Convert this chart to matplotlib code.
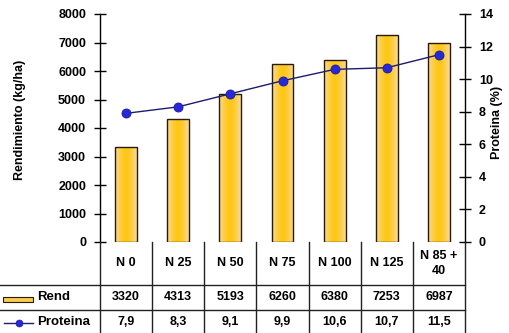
import numpy as np
import matplotlib
matplotlib.use("Agg")
import matplotlib.pyplot as plt
from matplotlib.transforms import blended_transform_factory
from matplotlib.patches import Rectangle
from matplotlib.lines import Line2D

plt.rcParams['font.family'] = ['Liberation Sans', 'DejaVu Sans']
plt.rcParams['font.weight'] = 'bold'

categories = ["N 0", "N 25", "N 50", "N 75", "N 100", "N 125", "N 85 +\n40"]
rend = [3320, 4313, 5193, 6260, 6380, 7253, 6987]
proteina = [7.9, 8.3, 9.1, 9.9, 10.6, 10.7, 11.5]
rend_ticks = [0, 1000, 2000, 3000, 4000, 5000, 6000, 7000, 8000]
prot_ticks = [0, 2, 4, 6, 8, 10, 12, 14]

W, H = 510, 333
FS = 9
fig = plt.figure(figsize=(W / 100, H / 100), dpi=100)
fig.patch.set_facecolor('white')

def fx(px):
    return px / W

def fy(py):
    return 1 - py / H

ax_l, ax_r, ax_t, ax_b = 100, 465, 14, 242
ax = fig.add_axes([fx(ax_l), fy(ax_b), fx(ax_r - ax_l), fy(ax_t) - fy(ax_b)])
ax2 = ax.twinx()

n = len(categories)
x = np.arange(n)
ax.set_xlim(-0.5, n - 0.5)
ax.set_ylim(0, 8000)
ax2.set_ylim(0, 14)

# Bars with a horizontal light-gold-light gradient
bar_w = 0.42
grad = np.linspace(-1, 1, 64)
t = 1 - np.abs(grad) ** 1.6
edge_c = np.array([0.98, 0.86, 0.62])
mid_c = np.array([1.0, 0.78, 0.08])
img = (edge_c[None, :] * (1 - t[:, None]) + mid_c[None, :] * t[:, None])[None, :, :]
for xi, v in zip(x, rend):
    rect = Rectangle((xi - bar_w / 2, 0), bar_w, v, facecolor='none',
                     edgecolor='#2a1a0a', linewidth=1.0, zorder=3)
    ax.add_patch(rect)
    im = ax.imshow(img, extent=(xi - bar_w / 2, xi + bar_w / 2, 0, v),
                   aspect='auto', zorder=2, interpolation='bilinear')
    im.set_clip_path(rect)
ax.set_xlim(-0.5, n - 0.5)
ax.set_ylim(0, 8000)

# Protein line
ax2.plot(x, proteina, color='#1c1c6e', linewidth=1.0, marker='o',
         markersize=6.5, markerfacecolor='#2828d8', markeredgecolor='#1a1aa0',
         markeredgewidth=0.6, zorder=5)

for a in (ax, ax2):
    for s in ('top', 'bottom'):
        a.spines[s].set_visible(False)
    a.set_xticks([])
ax.spines['right'].set_visible(False)
ax2.spines['left'].set_visible(False)
ax.spines['left'].set_linewidth(1.0)
ax2.spines['right'].set_linewidth(1.0)

ax.set_yticks(rend_ticks)
ax.set_yticklabels([str(v) for v in rend_ticks], fontsize=FS, fontweight='bold')
ax.tick_params(axis='y', direction='inout', length=8, width=1.0, pad=6)
ax2.set_yticks(prot_ticks)
ax2.set_yticklabels([str(v) for v in prot_ticks], fontsize=FS, fontweight='bold')
ax2.tick_params(axis='y', direction='inout', length=8, width=1.0, pad=6)
ax.set_zorder(ax2.get_zorder() - 1)
ax2.patch.set_visible(False)

fig.text(fx(20), fy(120), "Rendimiento (kg/ha)", rotation=90, ha='center',
         va='center', fontsize=FS, fontweight='bold')
fig.text(fx(497), fy(122), "Proteina (%)", rotation=90, ha='center',
         va='center', fontsize=FS, fontweight='bold')

# Data table below the axis
tr = blended_transform_factory(ax.transData, fig.transFigure)
lc = '#222222'
row1, row2 = 285, 310
for yy in (row1, row2):
    fig.add_artist(Line2D([0, fx(ax_r)], [fy(yy), fy(yy)], color=lc, lw=1.0,
                          transform=fig.transFigure))
for b in np.arange(-0.5, n, 1.0):
    fig.add_artist(Line2D([b, b], [fy(ax_b), fy(H)], color=lc, lw=1.0,
                          transform=tr))

for xi, c in zip(x, categories):
    fig.text(xi, fy(263.5), c, transform=tr, ha='center', va='center',
             fontsize=FS, fontweight='bold', linespacing=1.4)
for xi, v in zip(x, rend):
    fig.text(xi, fy(297.5), str(v), transform=tr, ha='center', va='center',
             fontsize=FS, fontweight='bold')
for xi, v in zip(x, proteina):
    fig.text(xi, fy(322), f"{v:.1f}".replace('.', ','), transform=tr,
             ha='center', va='center', fontsize=FS, fontweight='bold')

# Legend keys in the row headers
key = Rectangle((fx(3), fy(302)), fx(30), fy(297) - fy(302), transform=fig.transFigure,
                facecolor='#f8cc50', edgecolor='#2a1a0a', lw=0.8)
fig.add_artist(key)
fig.text(fx(37), fy(297.5), "Rend", ha='left', va='center', fontsize=FS + 0.5,
         fontweight='bold')
fig.add_artist(Line2D([fx(4), fx(33)], [fy(323), fy(323)], color='#1c1c6e', lw=1.0,
                      transform=fig.transFigure))
fig.add_artist(Line2D([fx(19)], [fy(323)], marker='o', markersize=5,
                      markerfacecolor='#2828d8', markeredgecolor='#1a1aa0',
                      markeredgewidth=0.5, transform=fig.transFigure))
fig.text(fx(37), fy(322), "Proteina", ha='left', va='center', fontsize=FS + 0.5,
         fontweight='bold')

fig.savefig("out.png", dpi=100)
